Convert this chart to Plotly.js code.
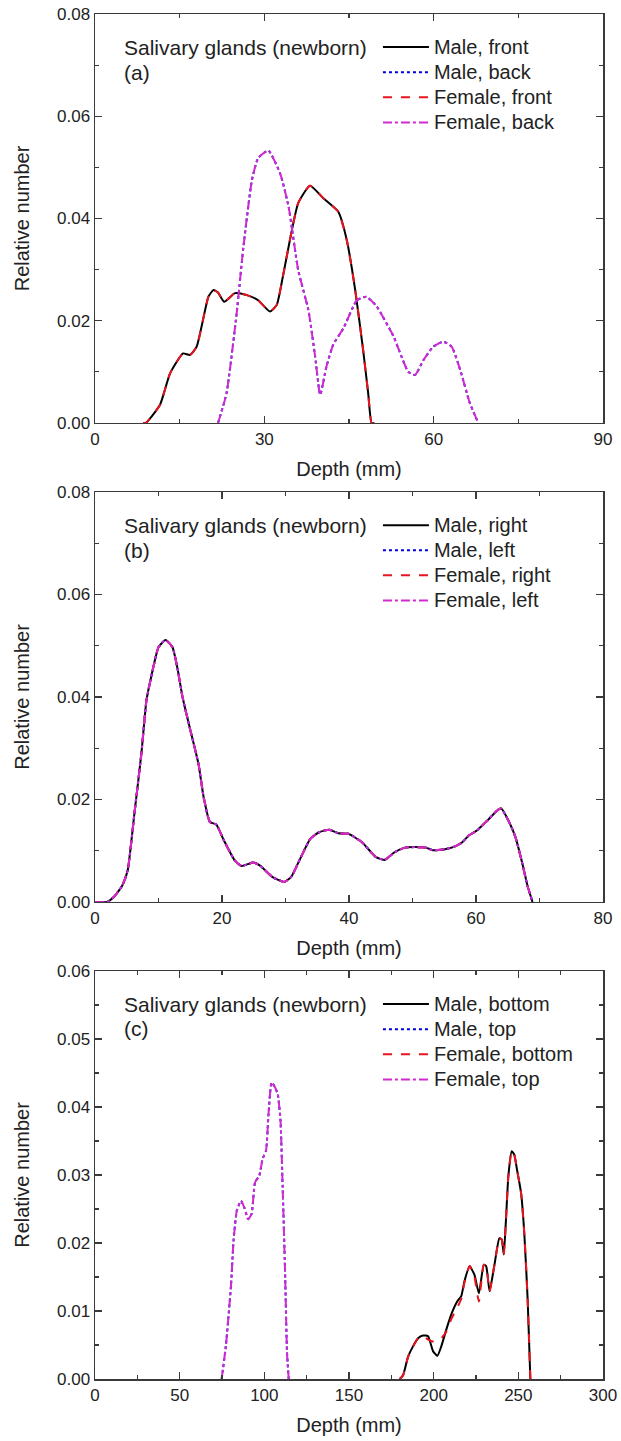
<!DOCTYPE html>
<html>
<head>
<meta charset="utf-8">
<script src="https://cdn.plot.ly/plotly-3.0.1.min.js"></script>
<style>html,body{margin:0;padding:0;background:#fff;}</style>
</head>
<body>
<div id="chart" style="width:621px;height:1441px;"></div>
<script>
// ---------- Panel (a): front / back ----------
const aFrontX = [8.5, 9.0, 11.5, 13.3, 15.6, 16.8, 18.0, 20.1, 21.0, 21.8, 22.9, 24.8, 26.9, 28.9, 31.0, 32.2, 33.4, 36.0, 38.1, 40.5, 43.1, 44.6, 46.1, 47.5, 48.4, 49.0, 49.5];
const aMaleFront = [0, 0, 0.0035, 0.0097, 0.0136, 0.0133, 0.0149, 0.0247, 0.0260, 0.0255, 0.0237, 0.0254, 0.0250, 0.0240, 0.0218, 0.0231, 0.0293, 0.0430, 0.0464, 0.0439, 0.0413, 0.0358, 0.0260, 0.0143, 0.0058, 0, 0];
const aFemaleFront = [0, 0, 0.0035, 0.0097, 0.0136, 0.0133, 0.0149, 0.0247, 0.0260, 0.0255, 0.0237, 0.0254, 0.0250, 0.0240, 0.0218, 0.0231, 0.0293, 0.0430, 0.0464, 0.0439, 0.0413, 0.0358, 0.0260, 0.0143, 0.0058, 0, 0];
const aBackX = [21.8, 23.3, 25.1, 26.3, 27.8, 28.9, 30.7, 32.8, 34.3, 36.0, 37.8, 39.0, 39.9, 41.0, 42.2, 44.0, 46.4, 48.1, 49.9, 52.9, 55.5, 56.7, 58.2, 59.9, 61.7, 63.2, 64.7, 66.4, 67.9];
const aMaleBack = [0, 0.0058, 0.0215, 0.0345, 0.0475, 0.0518, 0.0533, 0.0488, 0.0423, 0.0299, 0.0221, 0.0130, 0.0055, 0.0110, 0.0153, 0.0185, 0.0240, 0.0247, 0.0228, 0.0169, 0.0100, 0.0094, 0.0123, 0.0149, 0.0159, 0.0149, 0.0104, 0.0039, 0];
const aFemaleBack = [0, 0.0058, 0.0215, 0.0345, 0.0475, 0.0518, 0.0533, 0.0488, 0.0423, 0.0299, 0.0221, 0.0130, 0.0055, 0.0110, 0.0153, 0.0185, 0.0240, 0.0247, 0.0228, 0.0169, 0.0100, 0.0094, 0.0123, 0.0149, 0.0159, 0.0149, 0.0104, 0.0039, 0];

// ---------- Panel (b): right / left ----------
const bX = [0, 1.9, 3.0, 4.3, 5.15, 6.2, 7.3, 8.1, 8.95, 10.0, 11.1, 12.2, 13.0, 13.8, 14.9, 16.3, 17.1, 18.1, 19.1, 20.3, 22.0, 23.1, 24.9, 26.0, 27.9, 29.8, 30.9, 32.3, 33.9, 35.3, 36.9, 38.3, 39.9, 42.0, 44.2, 45.6, 47.2, 48.8, 50.4, 52.1, 53.2, 55.1, 56.4, 57.8, 58.9, 60.2, 61.8, 63.5, 64.0, 65.1, 66.2, 67.3, 68.1, 68.9];
const bVals = [0, 0, 0.0010, 0.0032, 0.0062, 0.0172, 0.0289, 0.0393, 0.0445, 0.0497, 0.0511, 0.0497, 0.0455, 0.0399, 0.0341, 0.0269, 0.0205, 0.0156, 0.0151, 0.0120, 0.0081, 0.0070, 0.0077, 0.0071, 0.0049, 0.0039, 0.0049, 0.0084, 0.0123, 0.0136, 0.0141, 0.0134, 0.0133, 0.0117, 0.0088, 0.0082, 0.0097, 0.0106, 0.0107, 0.0106, 0.0101, 0.0103, 0.0107, 0.0116, 0.0130, 0.0140, 0.0159, 0.0180, 0.0182, 0.0159, 0.0127, 0.0075, 0.0032, 0];
const bMaleRight = bVals;
const bMaleLeft = bVals;
const bFemaleRight = bVals;
const bFemaleLeft = bVals;

// ---------- Panel (c): bottom / top ----------
const cTopX = [74.8, 77.3, 80.3, 81.9, 83.8, 86.2, 88.2, 90.5, 92.5, 94.5, 97.0, 99.0, 101.0, 102.4, 104.3, 106.3, 107.9, 109.5, 110.8, 112.2, 113.4, 114.4];
const cMaleTop = [0, 0.0049, 0.0137, 0.0206, 0.0248, 0.0262, 0.0252, 0.0235, 0.0243, 0.0289, 0.0299, 0.0324, 0.0336, 0.0387, 0.0436, 0.0429, 0.0419, 0.0382, 0.0284, 0.0162, 0.0039, 0];
const cFemaleTop = [0, 0.0049, 0.0137, 0.0206, 0.0248, 0.0262, 0.0252, 0.0235, 0.0243, 0.0289, 0.0299, 0.0324, 0.0336, 0.0387, 0.0436, 0.0429, 0.0419, 0.0382, 0.0284, 0.0162, 0.0039, 0];
const cBottomX = [180, 182, 184.9, 187.8, 190.8, 193.7, 196.7, 199.6, 202.2, 204.5, 207.5, 210.4, 213.9, 216.3, 218.2, 221.2, 224.1, 226.7, 229.6, 231.0, 233.0, 235.9, 238.8, 240.2, 241.4, 242.7, 244.1, 246.1, 247.6, 249.2, 251.6, 253.5, 255.5, 257.1];
const cMaleBottom = [0, 0.0006, 0.0033, 0.0048, 0.0060, 0.0064, 0.0063, 0.0041, 0.0034, 0.0048, 0.0073, 0.0095, 0.0114, 0.0122, 0.0144, 0.0166, 0.0153, 0.0126, 0.0168, 0.0166, 0.0129, 0.0168, 0.0207, 0.0205, 0.0183, 0.0234, 0.0298, 0.0335, 0.0330, 0.0308, 0.0274, 0.0215, 0.0117, 0];
const cFemaleBottom = [0, 0.0006, 0.0033, 0.0048, 0.0060, 0.0063, 0.0058, 0.0055, 0.0056, 0.0060, 0.0070, 0.0088, 0.0105, 0.0118, 0.0142, 0.0166, 0.0150, 0.0114, 0.0168, 0.0166, 0.0129, 0.0168, 0.0207, 0.0205, 0.0183, 0.0234, 0.0298, 0.0335, 0.0330, 0.0308, 0.0274, 0.0215, 0.0117, 0];

// ---------- Labels ----------
const panelTitle = "Salivary glands (newborn)";
const panelTags = ["(a)", "(b)", "(c)"];
const namesA = ["Male, front", "Male, back", "Female, front", "Female, back"];
const namesB = ["Male, right", "Male, left", "Female, right", "Female, left"];
const namesC = ["Male, bottom", "Male, top", "Female, bottom", "Female, top"];
const xTitle = "Depth (mm)";
const yTitle = "Relative number";

const FONT = "Liberation Sans, Arial, sans-serif";
const TXT = "#222";
const styles = [
  {color: "#000000", dash: "solid", width: 2},
  {color: "#0000dd", dash: "dot", width: 2},
  {color: "#e8141e", dash: "dash", width: 2},
  {color: "#d22ad2", dash: "dashdot", width: 2}
];

function tr(x, y, name, s, xa, ya, leg) {
  return {x: x, y: y, name: '<span style="font-size:20px">' + name + '</span>',
    type: "scatter", mode: "lines",
    line: {color: s.color, dash: s.dash, width: s.width, shape: "spline", smoothing: 0.5},
    xaxis: xa, yaxis: ya, legend: leg};
}

const data = [
  tr(aFrontX, aMaleFront, namesA[0], styles[0], "x", "y", "legend"),
  tr(aBackX, aMaleBack, namesA[1], styles[1], "x", "y", "legend"),
  tr(aFrontX, aFemaleFront, namesA[2], styles[2], "x", "y", "legend"),
  tr(aBackX, aFemaleBack, namesA[3], styles[3], "x", "y", "legend"),
  tr(bX, bMaleRight, namesB[0], styles[0], "x2", "y2", "legend2"),
  tr(bX, bMaleLeft, namesB[1], styles[1], "x2", "y2", "legend2"),
  tr(bX, bFemaleRight, namesB[2], styles[2], "x2", "y2", "legend2"),
  tr(bX, bFemaleLeft, namesB[3], styles[3], "x2", "y2", "legend2"),
  tr(cBottomX, cMaleBottom, namesC[0], styles[0], "x3", "y3", "legend3"),
  tr(cTopX, cMaleTop, namesC[1], styles[1], "x3", "y3", "legend3"),
  tr(cBottomX, cFemaleBottom, namesC[2], styles[2], "x3", "y3", "legend3"),
  tr(cTopX, cFemaleTop, namesC[3], styles[3], "x3", "y3", "legend3")
];

const AX = "#3a3a3a";
function xax(range, dtick, minor, anchor) {
  return {range: range, dtick: dtick, tick0: 0, anchor: anchor,
    showline: true, linecolor: AX, linewidth: 1.5, mirror: "allticks",
    ticks: "inside", ticklen: 7, tickwidth: 1.4, tickcolor: AX,
    minor: {dtick: minor, ticks: "inside", ticklen: 4, tickwidth: 1.2, tickcolor: AX, showgrid: false},
    showgrid: false, zeroline: false, fixedrange: true,
    tickfont: {family: FONT, size: 17, color: TXT},
    title: {text: xTitle, font: {family: FONT, size: 20, color: TXT}, standoff: 14}};
}
function yax(range, dtick, minor, anchor, domain) {
  return {range: range, dtick: dtick, tick0: 0, anchor: anchor, domain: domain,
    showline: true, linecolor: AX, linewidth: 1.5, mirror: "allticks",
    ticks: "inside", ticklen: 7, tickwidth: 1.4, tickcolor: AX,
    minor: {dtick: minor, ticks: "inside", ticklen: 4, tickwidth: 1.2, tickcolor: AX, showgrid: false},
    showgrid: false, zeroline: false, fixedrange: true, tickformat: ".2f",
    tickfont: {family: FONT, size: 17, color: TXT},
    title: {text: yTitle, font: {family: FONT, size: 20, color: TXT}, standoff: 22}};
}
function leg(y) {
  return {x: 0.557, xanchor: "left", y: y, yanchor: "top", bgcolor: "rgba(0,0,0,0)",
    borderwidth: 0, font: {family: FONT, size: 17, color: TXT}, itemwidth: 46,
    tracegroupgap: 0, traceorder: "normal", itemclick: false, itemdoubleclick: false};
}
function ann(text, xr, yr, y) {
  return {text: text, xref: xr + " domain", yref: yr + " domain", x: 0.054, y: y,
    xanchor: "left", yanchor: "middle", showarrow: false,
    font: {family: FONT, size: 21, color: TXT}};
}

const layout = {
  width: 621, height: 1441,
  margin: {l: 95, r: 18, t: 14, b: 62},
  paper_bgcolor: "#fff", plot_bgcolor: "#fff",
  showlegend: true,
  xaxis: xax([0, 90], 30, 15, "y"),
  yaxis: yax([0, 0.08], 0.02, 0.01, "x", [0.7004, 1]),
  xaxis2: xax([0, 80], 20, 10, "y2"),
  yaxis2: yax([0, 0.08], 0.02, 0.01, "x2", [0.3495, 0.6498]),
  xaxis3: xax([0, 300], 50, 25, "y3"),
  yaxis3: yax([0, 0.06], 0.01, 0.005, "x3", [0, 0.2989]),
  legend: leg(0.9886),
  legend2: leg(0.6384),
  legend3: leg(0.2875),
  annotations: [
    ann(panelTitle, "x", "y", 0.919), ann(panelTags[0], "x", "y", 0.858),
    ann(panelTitle, "x2", "y2", 0.919), ann(panelTags[1], "x2", "y2", 0.858),
    ann(panelTitle, "x3", "y3", 0.919), ann(panelTags[2], "x3", "y3", 0.858)
  ]
};

Plotly.newPlot("chart", data, layout, {displayModeBar: false, staticPlot: true});
</script>
</body>
</html>
